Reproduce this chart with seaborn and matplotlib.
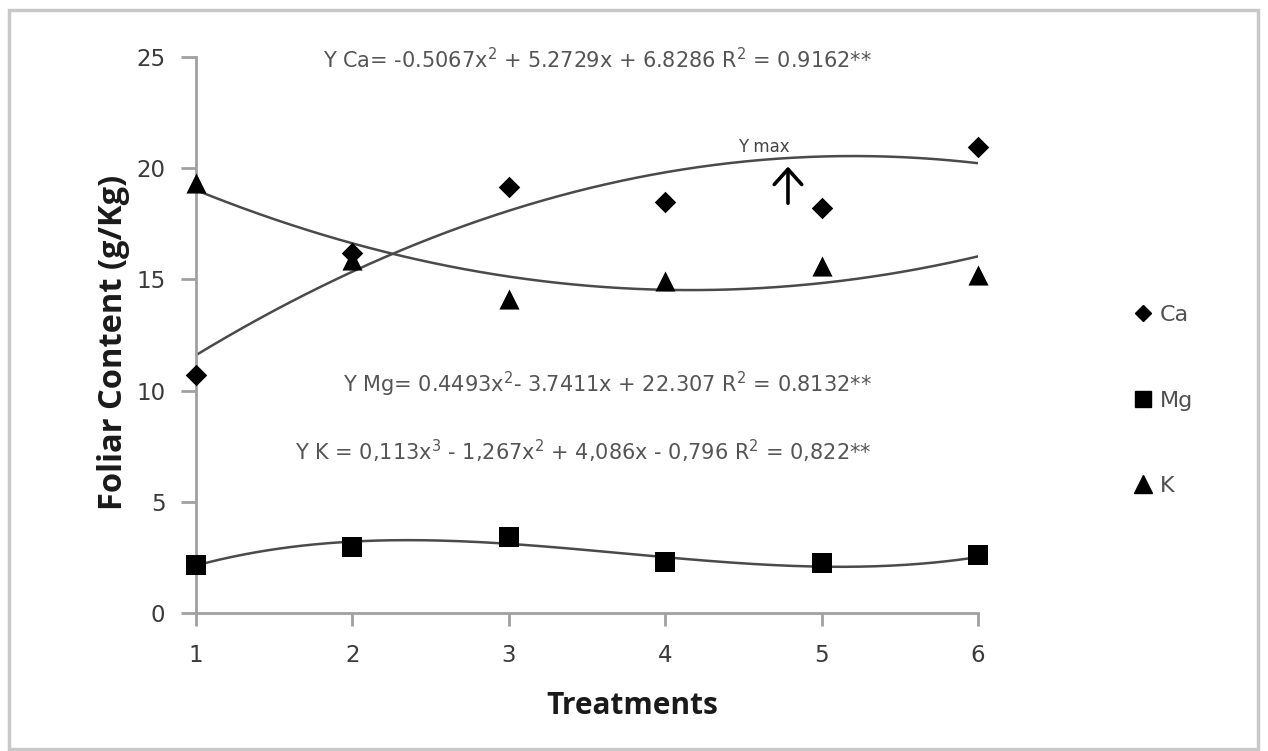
import numpy as np
import pandas as pd
import seaborn as sns
import matplotlib.pyplot as plt
from matplotlib.patches import Rectangle
from matplotlib.lines import Line2D

# data
treatments = [1, 2, 3, 4, 5, 6]
ca = [10.7, 16.2, 19.15, 18.5, 18.2, 20.95]
mg = [2.15, 2.95, 3.4, 2.3, 2.25, 2.6]
k = [19.35, 15.85, 14.1, 14.95, 15.6, 15.2]

# trend coefficients printed on the chart
ca_coef = [-0.5067, 5.2729, 6.8286]
k_coef = [0.4493, -3.7411, 22.307]
mg_coef = [0.113, -1.267, 4.086, -0.796]

eq_ca = "Y Ca= -0.5067x$^2$ + 5.2729x + 6.8286 R$^2$ = 0.9162**"
eq_k = "Y Mg= 0.4493x$^2$- 3.7411x + 22.307 R$^2$ = 0.8132**"
eq_mg = "Y K = 0,113x$^3$ - 1,267x$^2$ + 4,086x - 0,796 R$^2$ = 0,822**"

sns.set_style("white")
plt.rcParams['font.family'] = ['DejaVu Sans']
plt.rcParams['mathtext.fontset'] = 'dejavusans'

fig = plt.figure(figsize=(12.68, 7.51), dpi=100)
ax = fig.add_axes([196/1268, 1-613/751, (978-196)/1268, (613-57)/751])

# outer border
fig.patches.append(Rectangle((9/1268, 0.002), 1249/1268, 1-0.002-10/751, transform=fig.transFigure,
                             fill=False, edgecolor='#c8c8c8', linewidth=2.5))

df = pd.DataFrame({'x': treatments, 'Ca': ca, 'Mg': mg, 'K': k})

# fitted curves
xs = np.linspace(1, 6, 200)
curves = pd.DataFrame({'x': xs,
                       'Ca': np.polyval(ca_coef, xs),
                       'K': np.polyval(k_coef, xs),
                       'Mg': np.polyval(mg_coef, xs)})
for col in ['Ca', 'Mg', 'K']:
    sns.lineplot(data=curves, x='x', y=col, ax=ax, color='#4a4a4a', linewidth=1.8)

sns.scatterplot(data=df, x='x', y='Ca', ax=ax, marker='D', s=120, color='black',
                linewidth=0, zorder=5, clip_on=False)
sns.scatterplot(data=df, x='x', y='Mg', ax=ax, marker='s', s=210, color='black',
                linewidth=0, zorder=5, clip_on=False)
sns.scatterplot(data=df, x='x', y='K', ax=ax, marker='^', s=210, color='black',
                linewidth=0, zorder=5, clip_on=False)

ax.set_xlim(1, 6)
ax.set_ylim(0, 25)
ax.set_xticks(treatments)
ax.set_yticks([0, 5, 10, 15, 20, 25])
for s in ['top', 'right']:
    ax.spines[s].set_visible(False)
for s in ['left', 'bottom']:
    ax.spines[s].set_color('#a0a0a0')
    ax.spines[s].set_linewidth(2)
ax.tick_params(axis='both', which='both', direction='out', bottom=True, left=True,
               width=2, color='#a0a0a0', labelsize=16.5, labelcolor='#3a3a3a')
ax.tick_params(axis='y', length=11, pad=11)
ax.tick_params(axis='x', length=9, pad=13)
ax.set_xlabel('')
ax.set_ylabel('')

fig.text(632/1268, 1-706/751, 'Treatments', ha='center', va='center', fontsize=21.5,
         fontweight='bold', color='#1a1a1a', family='Open Sans')
fig.text(114/1268, 1-342/751, 'Foliar Content (g/Kg)', ha='center', va='center', rotation=90,
         fontsize=23.5, fontweight='bold', color='#1a1a1a', family='Open Sans')

fig.text(872/1268, 1-60/751, eq_ca, ha='right', va='center', fontsize=15, color='#555555')
fig.text(872/1268, 1-384/751, eq_k, ha='right', va='center', fontsize=15, color='#555555')
fig.text(872/1268, 1-451/751, eq_mg, ha='right', va='center', fontsize=15, color='#555555')

# Y max marker
ax.text(4.63, 20.95, 'Y max', ha='center', va='center', fontsize=12, color='#444444')
ax.annotate('', xy=(4.785, 20.2), xytext=(4.785, 18.3),
            arrowprops=dict(arrowstyle='->,head_length=0.5,head_width=0.45', color='black',
                            lw=2.6, mutation_scale=22))

handles = [Line2D([], [], marker='D', color='black', linestyle='none', markersize=8.5),
           Line2D([], [], marker='s', color='black', linestyle='none', markersize=12),
           Line2D([], [], marker='^', color='black', linestyle='none', markersize=13)]
leg = fig.legend(handles, ['Ca', 'Mg', 'K'], loc='upper left',
                 bbox_to_anchor=(1109/1268, 1-285/751), frameon=False,
                 fontsize=16, labelspacing=2.95, handletextpad=0.1, handlelength=1.3)
for t in leg.get_texts():
    t.set_color('#505050')

fig.savefig('out.png', dpi=100)
